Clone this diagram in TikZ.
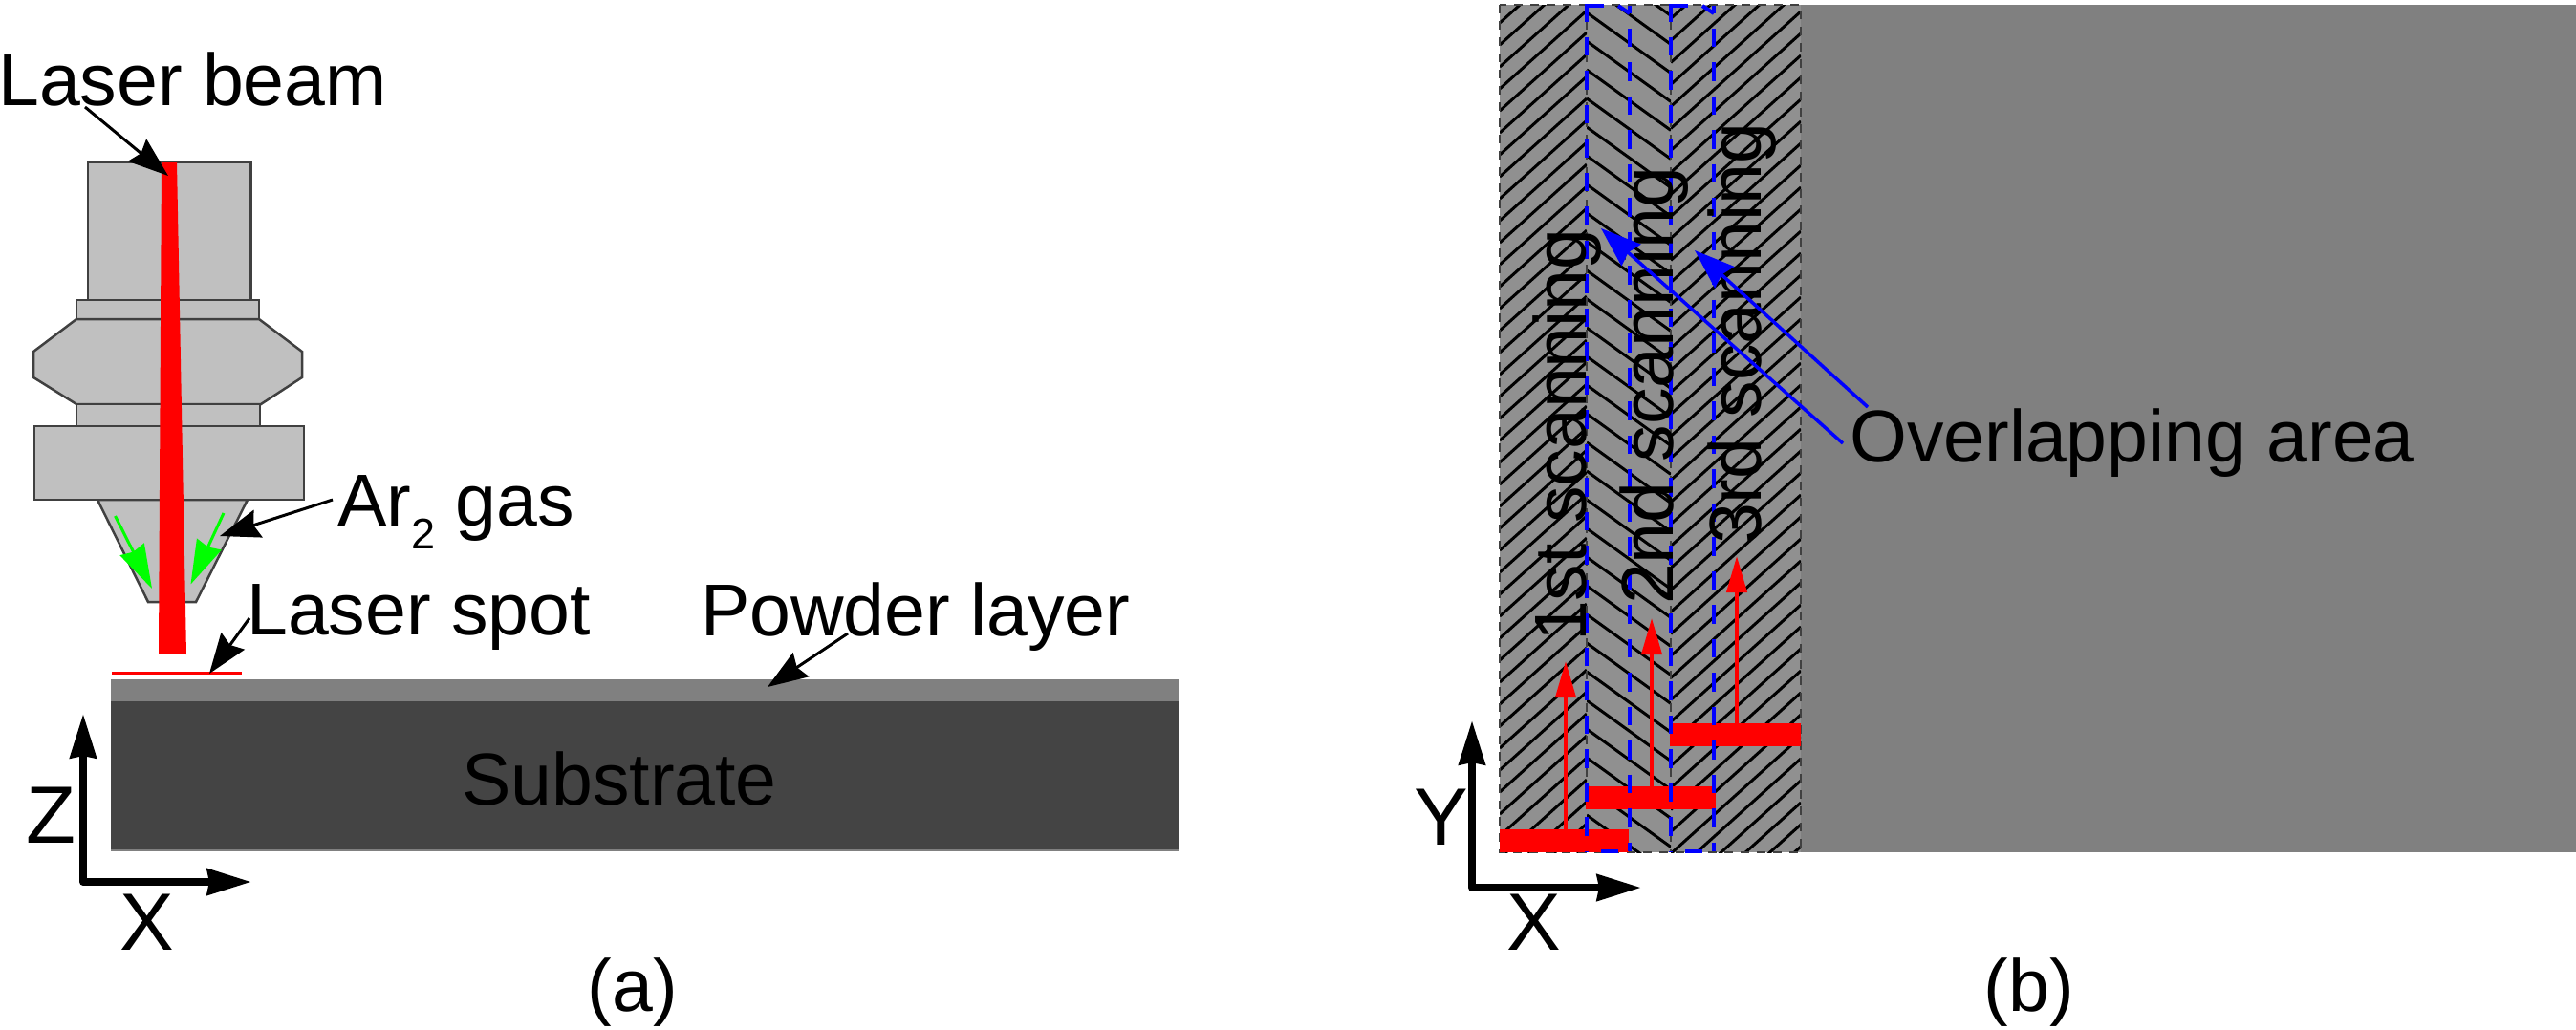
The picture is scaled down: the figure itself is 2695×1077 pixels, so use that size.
\documentclass[tikz,border=0pt]{standalone}
\usepackage{fontspec}
\setmainfont{Liberation Sans}
\usetikzlibrary{arrows.meta}
\definecolor{nozzle}{HTML}{C0C0C0}
\definecolor{edgegray}{HTML}{404040}
\definecolor{powder}{HTML}{808080}
\definecolor{substrate}{HTML}{444444}
\definecolor{hatchbg}{HTML}{909090}
\definecolor{gasgreen}{HTML}{00FF00}
\tikzset{
  lbl/.style={inner sep=0pt,anchor=base west,font=\fontsize{77}{80}\selectfont},
  axlbl/.style={inner sep=0pt,anchor=center,font=\fontsize{85}{90}\selectfont},
  part/.style={fill=nozzle,draw=edgegray,line width=2.5pt,line join=miter},
  leader/.style={black,line width=3pt,-{Stealth[length=42pt,width=30pt,inset=5pt]}},
  gasarrow/.style={gasgreen,line width=3pt,-{Stealth[length=46pt,width=28pt,inset=3pt]}},
  bluearrow/.style={blue,line width=3.5pt,-{Stealth[length=42pt,width=30pt,inset=4pt]}},
  redarrow/.style={red,line width=4pt,-{Stealth[length=38pt,width=21pt,inset=0pt]}},
  axisarrow/.style={black,line width=8pt,line join=round,{Stealth[length=46pt,width=27pt,inset=2pt]}-{Stealth[length=46pt,width=27pt,inset=2pt]}},
  seam/.style={edgegray,line width=2.5pt,dash pattern=on 9pt off 8pt},
  overlapA/.style={blue,line width=4pt,dash pattern=on 19.5pt off 16pt,dash phase=3pt},
  overlapB/.style={blue,line width=4pt,dash pattern=on 19.5pt off 16pt,dash phase=12pt},
  overlapEnd/.style={blue,line width=4pt,line join=miter},
  hatchline/.style={black,line width=3pt}
}
\begin{document}
\begin{tikzpicture}[x=1pt,y=-1pt]
\useasboundingbox (0,0) rectangle (2695,1077);
% ---- panel (a)
\fill[powder] (116,711) rectangle (1233,734);
\fill[substrate] (116,734) rectangle (1233,890);
\draw[powder,line width=1.5pt] (116,890) -- (1233,890);
\draw[part] (102,523) -- (259,523) -- (205,630) -- (155,630) -- cycle;
\draw[part] (92,170) rectangle (262.5,314);
\draw[part] (80,314) rectangle (271,334);
\draw[part] (80,334) -- (271,334) -- (316,368) -- (316,395) -- (273,423) -- (80,423) -- (35,395) -- (35,368) -- cycle;
\draw[part] (80,423) rectangle (272,446);
\draw[part] (36,446) rectangle (318,523);
\coordinate (g1s) at (120.5,540); \coordinate (g1e) at (159,616);
\coordinate (g2s) at (234,537); \coordinate (g2e) at (199.5,611.5);
\draw[gasarrow] (g1s) -- (g1e);
\draw[gasarrow] (g2s) -- (g2e);
\fill[red] (169,170) -- (185,170) -- (195,685) -- (166,684) -- cycle;
\fill[red] (117,702.5) rectangle (253,705.5);
\node[lbl] (beam) at (-2,110) {Laser beam};
\node[lbl] (gas) at (353,550) {Ar\raisebox{-24pt}{\fontsize{45}{50}\selectfont 2} gas};
\node[lbl] (spot) at (258,664) {Laser spot};
\node[lbl] (pow) at (733,665) {Powder layer};
\node[lbl] (sub) at (483,842) {Substrate};
\coordinate (beamS) at (89,112); \coordinate (beamE) at (176,184);
\coordinate (gasS) at (348,523); \coordinate (gasE) at (230,561);
\coordinate (spotS) at (261,647); \coordinate (spotE) at (219,705);
\coordinate (powS) at (887,663); \coordinate (powE) at (803,719);
\draw[leader] (beamS) -- (beamE);
\draw[leader] (gasS) -- (gasE);
\draw[leader] (spotS) -- (spotE);
\draw[leader] (powS) -- (powE);
\coordinate (azt) at (87,747); \coordinate (azo) at (87,923); \coordinate (axe) at (263,923);
\draw[axisarrow] (azt) -- (azo) -- (axe);
\node[axlbl] (az) at (53,853) {Z};
\node[axlbl] (ax) at (154,965) {X};
\node[lbl,anchor=base] (capa) at (662,1058) {(a)};
% ---- panel (b)
\fill[powder] (1884,5) rectangle (2695,892);
\fill[hatchbg] (1569,5) rectangle (1884,892);
\begin{scope}
\clip (1569,5) rectangle (1660,892);
\foreach \k in {-5,...,38}{
  \draw[hatchline] (1569,{93+23*\k}) -- (1660,{93+23*\k-81.9});
}
\end{scope}
\begin{scope}
\clip (1660,5) rectangle (1748,892);
\foreach \k in {-5,...,28}{
  \draw[hatchline] (1660,{73+30*\k}) -- (1748,{73+30*\k+63.4});
}
\end{scope}
\begin{scope}
\clip (1748,5) rectangle (1884,892);
\foreach \k in {-41,...,4}{
  \draw[hatchline] (1748,{817+23*\k+122.4}) -- (1884,{817+23*\k});
}
\end{scope}
\draw[seam] (1569,5) rectangle (1884,892);
\draw[seam] (1660,5) -- (1660,892);
\draw[seam] (1748,5) -- (1748,892);
\fill[red] (1569,868) rectangle (1704,892);
\fill[red] (1659,823) rectangle (1795,847);
\fill[red] (1747,757) rectangle (1884,781);
\draw[overlapA] (1660,6) -- (1660,891);
\draw[overlapB] (1705,6) -- (1705,891);
\draw[overlapA] (1748,6) -- (1748,891);
\draw[overlapB] (1793,6) -- (1793,891);
\draw[overlapEnd] (1660,15) -- (1660,6) -- (1678,6);
\draw[overlapEnd] (1693,6) -- (1705,14);
\draw[overlapEnd] (1748,15) -- (1748,6) -- (1766,6);
\draw[overlapEnd] (1781,6) -- (1793,14);
\draw[overlapEnd] (1675,891) -- (1693,891);
\draw[overlapEnd] (1763,891) -- (1781,891);
\node[lbl,rotate=90] (s1) at (1659,672) {1st scanning};
\node[lbl,rotate=90] (s2) at (1750,633) {2nd scanning};
\node[lbl,rotate=90] (s3) at (1842,570) {3rd scanning};
\coordinate (r1s) at (1638,868); \coordinate (r1e) at (1638,692);
\coordinate (r2s) at (1728,823); \coordinate (r2e) at (1728,647);
\coordinate (r3s) at (1817,757); \coordinate (r3e) at (1817,582);
\draw[redarrow] (r1s) -- (r1e);
\draw[redarrow] (r2s) -- (r2e);
\draw[redarrow] (r3s) -- (r3e);
\node[lbl] (over) at (1935,483) {Overlapping area};
\coordinate (o1s) at (1928,464); \coordinate (o1e) at (1675,239);
\coordinate (o2s) at (1954,426); \coordinate (o2e) at (1773,262);
\draw[bluearrow] (o1s) -- (o1e);
\draw[bluearrow] (o2s) -- (o2e);
\coordinate (byt) at (1540,754); \coordinate (byo) at (1540,929); \coordinate (bxe) at (1717,929);
\draw[axisarrow] (byt) -- (byo) -- (bxe);
\node[axlbl] (by) at (1508,855) {Y};
\node[axlbl] (bx) at (1605,965) {X};
\node[lbl,anchor=base] (capb) at (2123,1058) {(b)};
\end{tikzpicture}
\end{document}
